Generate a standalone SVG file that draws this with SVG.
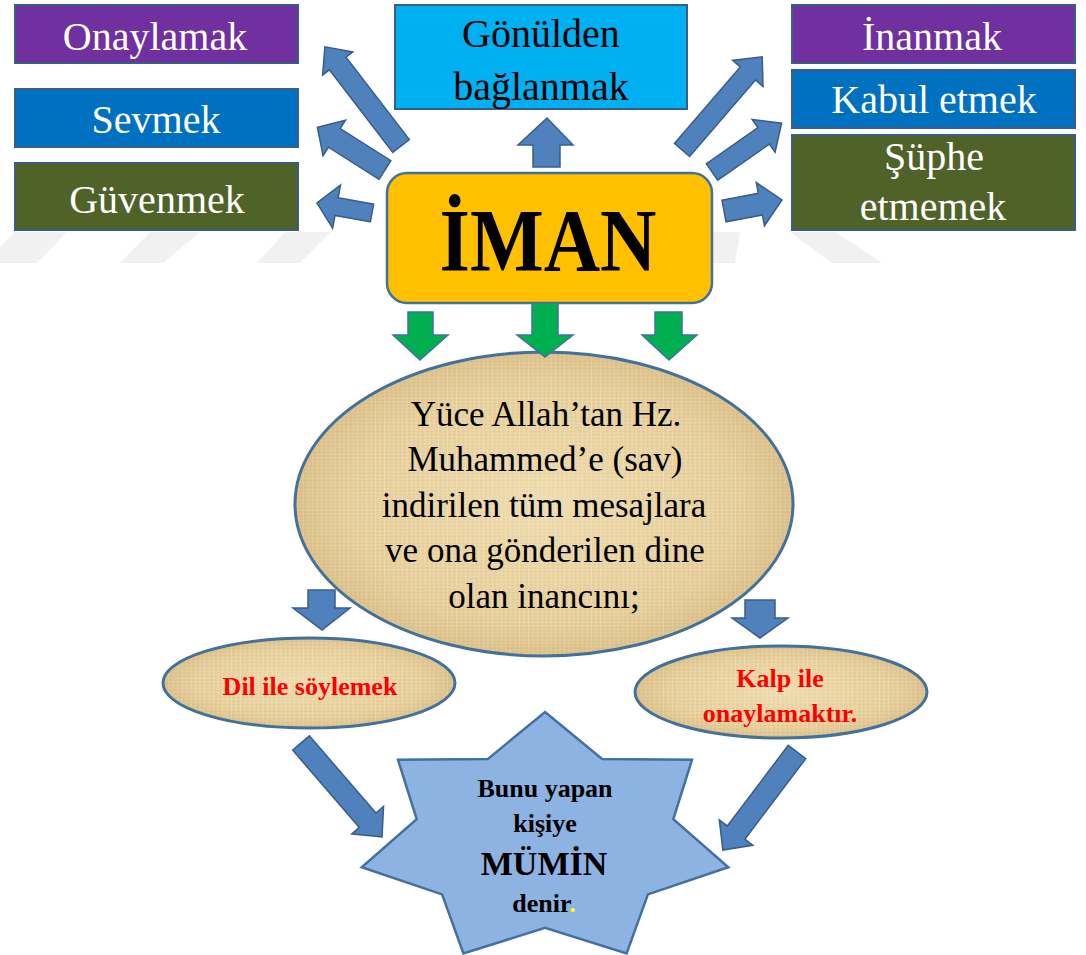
<svg xmlns="http://www.w3.org/2000/svg" width="1086" height="955" viewBox="0 0 1086 955">
<style>
.box{stroke:#385d8a;stroke-width:2}
.serif{font-family:'Liberation Serif','Times New Roman',serif}
.wt{font-size:40px;fill:#ffffff;text-anchor:middle}
.bt{font-size:40px;fill:#000000;text-anchor:middle}
.el{font-size:35px;fill:#000000;text-anchor:middle}
.red{font-size:26px;font-weight:bold;fill:#ff0000;text-anchor:middle}
.st{font-size:26px;font-weight:bold;fill:#000000;text-anchor:middle}
.big{font-size:34px}
.ba{fill:#4f81bd;stroke:#385d8a;stroke-width:1.5;stroke-linejoin:miter}
.ga{fill:#00b050;stroke:#41719c;stroke-width:1.5}
.par{stroke:#41719c;stroke-width:3}
.wm{fill:#f1f1f1}
</style>
<defs>
<pattern id="pap" width="9" height="7" patternUnits="userSpaceOnUse">
<rect width="9" height="7" fill="#e6cf9c"/>
<path d="M0 1H9M0 4.5H9" stroke="#d4b77e" stroke-width="0.7" opacity="0.55"/>
<path d="M2 0V7M6.5 0V7" stroke="#f3e4bd" stroke-width="0.9" opacity="0.6"/>
</pattern>
<radialGradient id="glow" cx="50%" cy="50%" r="50%">
<stop offset="0" stop-color="#f6e9c4" stop-opacity="0.55"/>
<stop offset="0.7" stop-color="#efdcae" stop-opacity="0.2"/>
<stop offset="1" stop-color="#c8a86c" stop-opacity="0.35"/>
</radialGradient>
</defs>
<rect width="1086" height="955" fill="#ffffff"/>
<g id="watermark">
<polygon class="wm" points="-15,263 37,263 67,232 15,232"/>
<polygon class="wm" points="120,263 163,263 200,232 150,232"/>
<polygon class="wm" points="257,263 300,263 330,232 285,232"/>
<polygon class="wm" points="700,232 740,232 735,263 713,263"/>
<polygon class="wm" points="790,232 835,232 882,263 832,263"/>
</g>
<g class="serif">
<g id="node-onaylamak">
<rect class="box" x="15" y="5" width="283" height="58" fill="#7030a0"/>
<text class="wt" x="155" y="50">Onaylamak</text>
</g>
<g id="node-sevmek">
<rect class="box" x="15" y="89" width="283" height="58" fill="#0070c0"/>
<text class="wt" x="156" y="133">Sevmek</text>
</g>
<g id="node-guvenmek">
<rect class="box" x="15" y="163" width="283" height="67" fill="#4f6228"/>
<text class="wt" x="157" y="213">Güvenmek</text>
</g>
<g id="node-gonulden">
<rect class="box" x="395" y="5" width="292" height="104" fill="#00b0f0"/>
<text class="bt" x="541" y="47">Gönülden</text>
<text class="bt" x="541" y="100">bağlanmak</text>
</g>
<g id="node-inanmak">
<rect class="box" x="792" y="5" width="283" height="58" fill="#7030a0"/>
<text class="wt" x="932" y="50">İnanmak</text>
</g>
<g id="node-kabul">
<rect class="box" x="792" y="70" width="283" height="58" fill="#0070c0"/>
<text class="wt" x="934" y="113">Kabul etmek</text>
</g>
<g id="node-suphe">
<rect class="box" x="792" y="135" width="283" height="95" fill="#4f6228"/>
<text class="wt" x="934" y="170">Şüphe</text>
<text class="wt" x="933" y="220">etmemek</text>
</g>
<g id="node-iman">
<rect x="387" y="173" width="325" height="130" rx="20" fill="#ffc000" stroke="#41719c" stroke-width="2.5"/>
<text x="548" y="270" font-size="88" font-weight="bold" text-anchor="middle" textLength="217" lengthAdjust="spacingAndGlyphs" fill="#000">İMAN</text>
</g>
<g id="node-tanim">
<ellipse cx="544" cy="504" rx="249" ry="152" fill="url(#pap)"/>
<ellipse class="par" cx="544" cy="504" rx="249" ry="152" fill="url(#glow)"/>
<text class="el" x="546" y="426">Yüce Allah’tan Hz.</text>
<text class="el" x="545" y="471">Muhammed’e (sav)</text>
<text class="el" x="544" y="517">indirilen tüm mesajlara</text>
<text class="el" x="545" y="562">ve ona gönderilen dine</text>
<text class="el" x="544" y="608">olan inancını;</text>
</g>
<g id="node-dil">
<ellipse cx="309" cy="683" rx="146" ry="45" fill="url(#pap)"/>
<ellipse class="par" cx="309" cy="683" rx="146" ry="45" fill="url(#glow)"/>
<text class="red" x="310" y="695">Dil ile söylemek</text>
</g>
<g id="node-kalp">
<ellipse cx="781" cy="692" rx="146" ry="46" fill="url(#pap)"/>
<ellipse class="par" cx="781" cy="692" rx="146" ry="46" fill="url(#glow)"/>
<text class="red" x="780" y="687">Kalp ile</text>
<text class="red" x="780" y="722">onaylamaktır.</text>
</g>
<g id="node-mumin">
<polygon points="545,712 602.1,758.9 692,759.8 673.3,819.2 728.3,867.3 647.9,894.4 626.6,953.4 545,927.9 463.4,953.4 442.1,894.4 361.7,867.3 416.7,819.2 398,759.8 487.9,758.9" fill="#8db3e2" stroke="#41719c" stroke-width="2.5" stroke-linejoin="miter"/>
<text class="st" x="545" y="797">Bunu yapan</text>
<text class="st" x="545" y="832">kişiye</text>
<text class="st big" x="544" y="875">MÜMİN</text>
<text class="st" x="544" y="912">denir<tspan fill="#ffff00">.</tspan></text>
</g>
</g>
<g id="connectors">
<polygon class="ba" transform="translate(401,146) rotate(-127.5)" points="0,-10.5 104,-10.5 104,-19 125,0 104,19 104,10.5 0,10.5"/>
<polygon class="ba" transform="translate(385,170) rotate(-147.7)" points="0,-11 60,-11 60,-21 80,0 60,21 60,11 0,11"/>
<polygon class="ba" transform="translate(372,213) rotate(-169.7)" points="0,-9 36,-9 36,-22 56,0 36,22 36,9 0,9"/>
<polygon class="ba" points="533,167 533,145 518,145 547,118 573,145 560,145 560,167"/>
<polygon class="ba" transform="translate(682,150) rotate(-49.3)" points="0,-10 101,-10 101,-20 123,0 101,20 101,10 0,10"/>
<polygon class="ba" transform="translate(712,172) rotate(-35)" points="0,-10 63,-10 63,-20 85,0 63,20 63,10 0,10"/>
<polygon class="ba" transform="translate(724,211) rotate(-10.7)" points="0,-11 37,-11 37,-22 59,0 37,22 37,11 0,11"/>
<polygon class="ga" points="408,312 433,312 433,335 448,335 420,360 393,335 408,335"/>
<polygon class="ga" points="532,303 558,303 558,335 573,335 545,357 517,335 532,335"/>
<polygon class="ga" points="655,312 682,312 682,335 697,335 669,360 642,335 655,335"/>
<polygon class="ba" points="308,590 335,590 335,608 350,608 322,630 293,608 308,608"/>
<polygon class="ba" points="745,600 775,600 775,618 788,618 760,638 732,618 745,618"/>
<polygon class="ba" transform="translate(301,743) rotate(49.2)" points="0,-11 102,-11 102,-21 124,0 102,21 102,11 0,11"/>
<polygon class="ba" transform="translate(797,752) rotate(127.1)" points="0,-11 101,-11 101,-21 123,0 101,21 101,11 0,11"/>
</g>
</svg>
